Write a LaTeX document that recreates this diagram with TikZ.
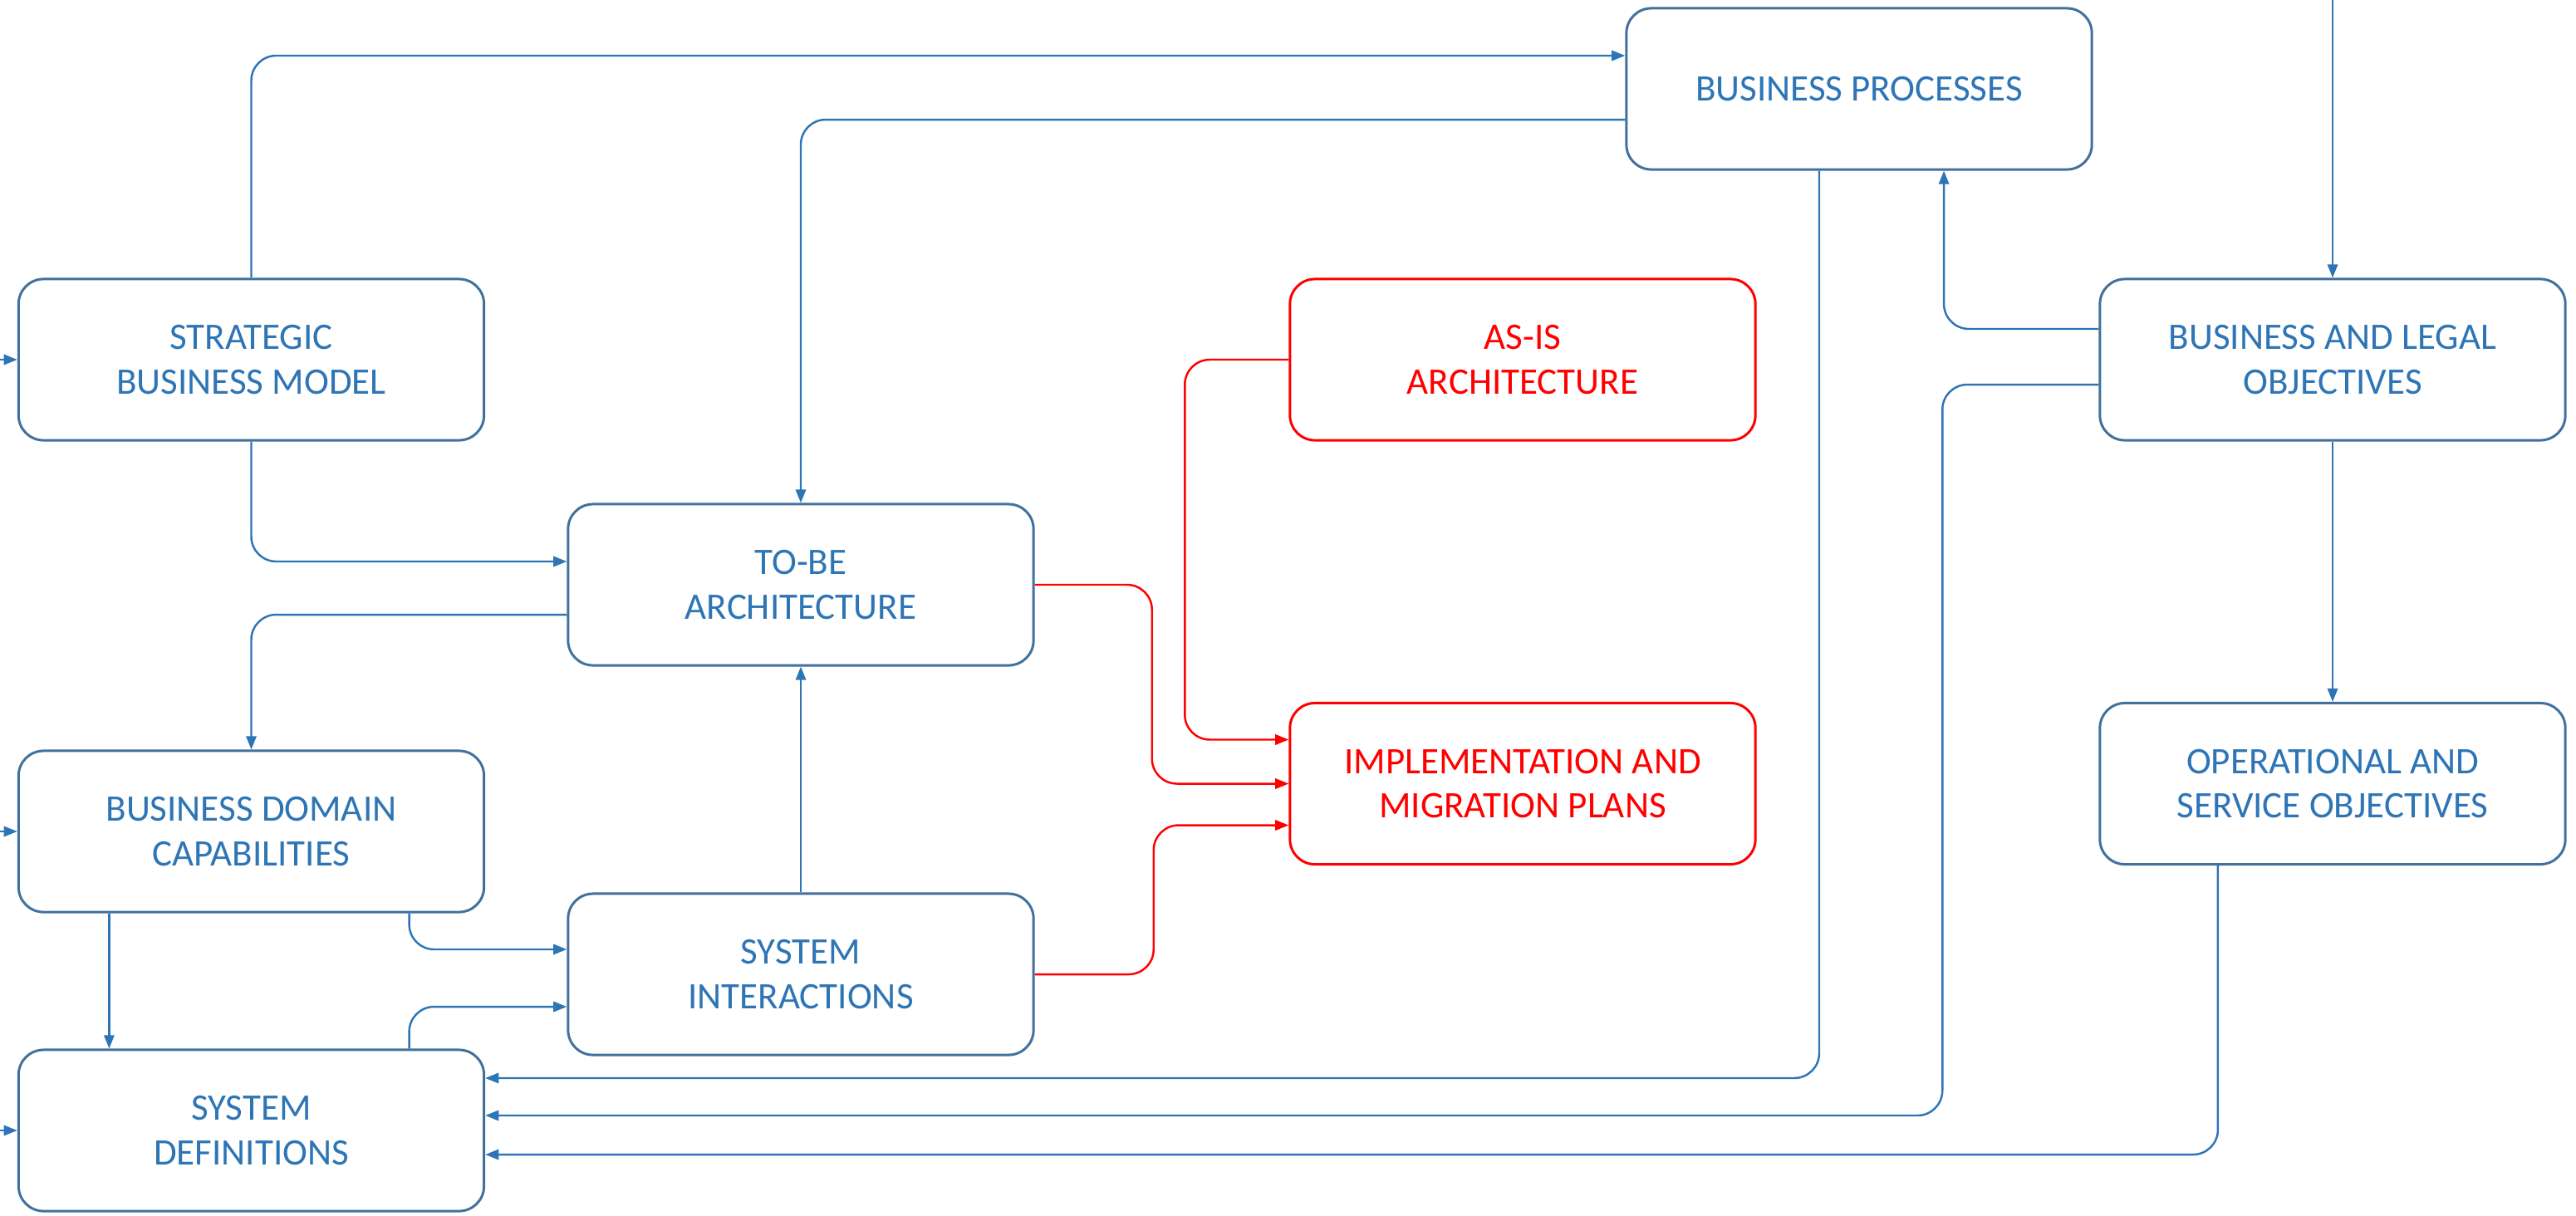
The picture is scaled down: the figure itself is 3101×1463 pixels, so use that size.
\documentclass[tikz,border=0pt]{standalone}
\usepackage{fontspec}
\setmainfont{Carlito}
\usetikzlibrary{arrows.meta}
\definecolor{txtblue}{HTML}{2E75B6}
\definecolor{boxblue}{HTML}{41719C}
\definecolor{lineblue}{HTML}{2E75B6}
\definecolor{myred}{HTML}{FF0000}
\tikzset{
  box/.style={draw=boxblue, line width=0.85pt, rounded corners=0.3cm, fill=white,
    minimum width=5.6cm, minimum height=1.94cm, inner sep=0pt, align=center,
    text=txtblue, font=\fontsize{12.8}{15.1}\selectfont},
  redbox/.style={box, draw=myred, text=myred},
  conn/.style={draw=lineblue, line width=0.7pt, rounded corners=0.3cm,
    -{Triangle[length=4.6pt,width=3.5pt]}},
  redconn/.style={conn, draw=myred, fill=none},
}
\begin{document}
\begin{tikzpicture}[x=0.01cm, y=-0.01cm]
\useasboundingbox (0,0) rectangle (3101,1463);

\node[box] (sbm) at (302.5,433) {STRATEGIC\\BUSINESS MODEL};
\node[box] (bp) at (2238,107) {BUSINESS PROCESSES};
\node[box] (blo) at (2808,433) {BUSINESS AND LEGAL\\OBJECTIVES};
\node[redbox] (asis) at (1833,433) {AS-IS\\ARCHITECTURE};
\node[box] (tobe) at (964,704) {TO-BE\\ARCHITECTURE};
\node[box] (bdc) at (302.5,1001) {BUSINESS DOMAIN\\CAPABILITIES};
\node[redbox] (imp) at (1833,943.5) {IMPLEMENTATION AND\\MIGRATION PLANS};
\node[box] (oso) at (2808,943.5) {OPERATIONAL AND\\SERVICE OBJECTIVES};
\node[box] (si) at (964,1173) {SYSTEM\\INTERACTIONS};
\node[box] (sd) at (302.5,1361) {SYSTEM\\DEFINITIONS};

\coordinate (inA) at (0,433);
\coordinate (inB) at (0,1001);
\coordinate (inC) at (0,1361);
\coordinate (src) at (2808,0);

% incoming from left edge
\draw[conn] (inA) -- (sbm.west);
\draw[conn] (inB) -- (bdc.west);
\draw[conn] (inC) -- (sd.west);

% top region
\draw[conn] (sbm.north) |- ([yshift=0.4cm]bp.west);
\draw[conn] ([yshift=-0.37cm]bp.west) -| (tobe.north);
\draw[conn] (sbm.south) |- ([yshift=0.28cm]tobe.west);
\draw[conn] ([yshift=-0.36cm]tobe.west) -| (bdc.north);
\draw[conn] ([xshift=-1.71cm]bdc.south) -- ([xshift=-1.71cm]bdc.south |- sd.north);
\draw[conn] ([xshift=1.9cm]bdc.south) |- ([yshift=0.3cm]si.west);
\draw[conn] ([xshift=1.9cm]sd.north) |- ([yshift=-0.39cm]si.west);
\draw[conn] (si.north) -- (tobe.south);

% red connectors
\draw[redconn] (tobe.east) -- ([xshift=1.41cm]tobe.east) |- (imp.west);
\draw[redconn] (asis.west) -- ([xshift=-1.25cm]asis.west) |- ([yshift=0.53cm]imp.west);
\draw[redconn] (si.east) -- ([xshift=1.43cm]si.east) |- ([yshift=-0.5cm]imp.west);

% right side
\draw[conn] ([xshift=-0.48cm]bp.south) |- ([yshift=0.63cm]sd.east);
\draw[conn] ([yshift=-0.3cm]blo.west) -- ([yshift=-0.3cm,xshift=-1.88cm]blo.west) |- ([yshift=0.18cm]sd.east);
\draw[conn] ([xshift=-1.38cm]oso.south) |- ([yshift=-0.29cm]sd.east);
\draw[conn] ([yshift=0.37cm]blo.west) -| ([xshift=1.02cm]bp.south);
\draw[conn] (src) -- (blo.north);
\draw[conn] (blo.south) -- (oso.north);
\end{tikzpicture}
\end{document}
